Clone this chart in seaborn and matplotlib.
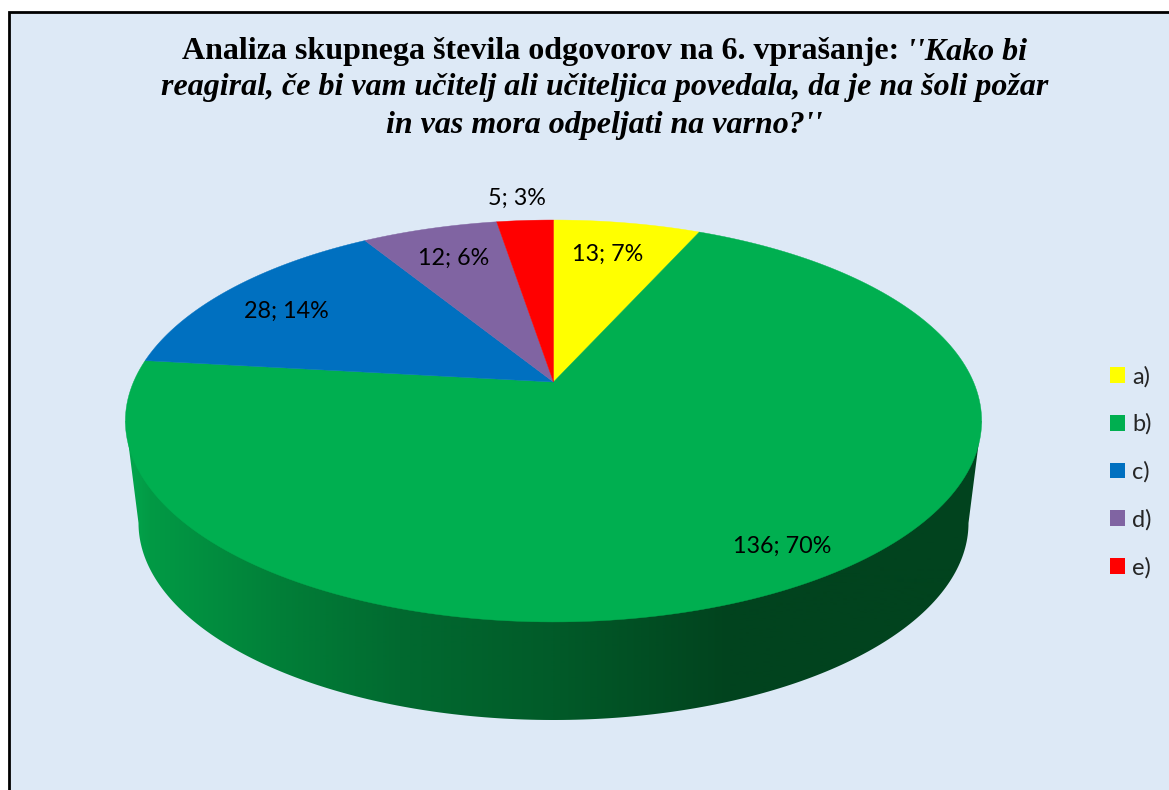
import numpy as np
import matplotlib
matplotlib.use("Agg")
import matplotlib.pyplot as plt
from matplotlib.patches import Patch, Polygon, Rectangle
import seaborn as sns

# answers a) to e), clockwise from the top of the pie
answers = ["a)", "b)", "c)", "d)", "e)"]
counts = [13, 136, 28, 12, 5]
colors = ["#FFFF00", "#00AF50", "#0070C0", "#8064A2", "#FF0000"]

title_bold = "Analiza skupnega števila odgovorov na 6. vprašanje: "
title_italic = "''Kako bi"
title_line2 = "reagiral, če bi vam učitelj ali učiteljica povedala, da je na šoli požar"
title_line3 = "in vas mora odpeljati na varno?''"

bg = "#DDE9F6"

sns.set_theme(style="white")
plt.rcParams["font.family"] = ["Lato", "DejaVu Sans"]

fig = plt.figure(figsize=(11.69, 7.9), dpi=100, facecolor="white")
ax = fig.add_axes([0, 0, 1, 1])
ax.axis("off")

ax.add_patch(Rectangle((9, 12), 1300, 900, facecolor=bg, edgecolor="black", linewidth=2, zorder=0))

# perspective of the pie top, everything is in image pixels
cx, cy = 553.5, 382
k = -0.194
a = 193.4
b = 420


def project(angle, r=1.0):
    u = r * np.sin(angle)
    v = -r * np.cos(angle)
    d = 1 + k * v
    return cx + b * u / d, cy + a * v / d


# side of the pie, a horizontal gradient clipped to the body outline
th = np.linspace(0, np.pi, 200)
body_x = np.concatenate([[125.5], 553.5 - 415 * np.cos(th), [981.5]])
body_y = np.concatenate([[421], 523 + 197 * np.sin(th), [421]])
body = Polygon(np.column_stack([body_x, body_y]), closed=True, facecolor="none", edgecolor="none")
ax.add_patch(body)

stops = np.array([125, 150, 280, 400, 553, 730, 985])
stop_cols = np.array([matplotlib.colors.to_rgb(c) for c in
                      ["#02A84E", "#029A45", "#017F38", "#016A30", "#015B29", "#01431E", "#01431E"]])
grad_x = np.arange(125, 986)
grad = np.stack([np.interp(grad_x, stops, stop_cols[:, i]) for i in range(3)], axis=-1)[None, :, :]
im = ax.imshow(grad, extent=(125, 985, 725, 415), aspect="auto", zorder=1)
im.set_clip_path(body)

# top of the pie
total = sum(counts)
edges = np.concatenate([[0], np.cumsum(counts)]) / total * 2 * np.pi
for i in range(len(counts)):
    ang = np.linspace(edges[i], edges[i + 1], 200)
    px, py = project(ang)
    pts = np.column_stack([np.concatenate([[cx], px]), np.concatenate([[cy], py])])
    ax.add_patch(Polygon(pts, closed=True, facecolor=colors[i], edgecolor=colors[i], linewidth=0.3, zorder=2))

# data labels
label_xy = [(608, 254), (782, 546), (286, 311), (454, 258), (517, 198)]
for n, (lx, ly) in zip(counts, label_xy):
    ax.text(lx, ly, f"{n}; {round(n / total * 100)}%", ha="center", va="center",
            fontsize=16.8, color="black", zorder=3)

ax.set_xlim(0, 1169)
ax.set_ylim(790, 0)

# title, first line has two font styles so it is placed in two pieces
title_font = dict(family="Liberation Serif", fontsize=23, fontweight="bold", color="black", zorder=3)
fig.canvas.draw()
rend = fig.canvas.get_renderer()
t1 = ax.text(0, 52, title_bold.rstrip(), va="center", ha="left", **title_font)
t2 = ax.text(0, 52, title_italic, va="center", ha="left", style="italic", **title_font)
w1 = t1.get_window_extent(rend).width
w2 = t2.get_window_extent(rend).width
gap = 8
x0 = 604.5 - (w1 + gap + w2) / 2
t1.set_x(x0)
t2.set_x(x0 + w1 + gap)
ax.text(604.5, 88, title_line2, ha="center", va="center", style="italic", **title_font)
ax.text(604.5, 125, title_line3, ha="center", va="center", style="italic", **title_font)

handles = [Patch(facecolor=c, edgecolor="none", label=l) for c, l in zip(colors, answers)]
ax.legend(handles=handles, loc="center left", bbox_to_anchor=(1110 / 1169, 1 - 472 / 790),
          frameon=False, fontsize=17, handlelength=0.64, handleheight=0.64,
          handletextpad=0.3, labelspacing=1.11, borderpad=0, borderaxespad=0)

plt.savefig("out.png", dpi=100)
